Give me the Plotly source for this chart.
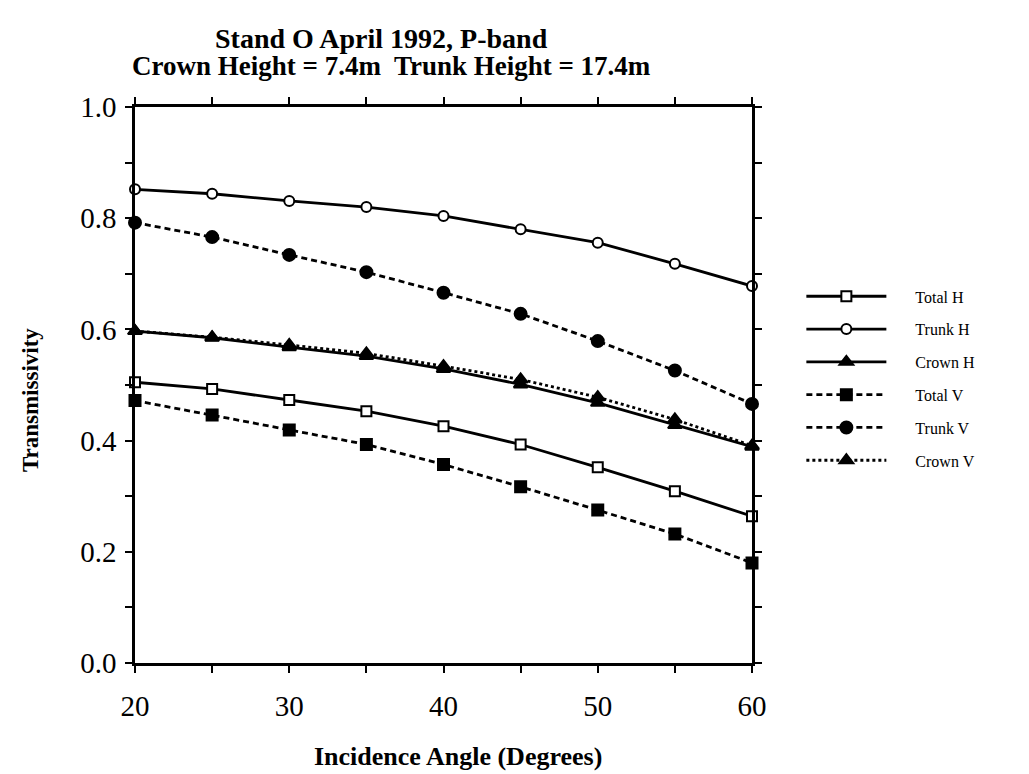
import plotly.graph_objects as go

angles = [20, 25, 30, 35, 40, 45, 50, 55, 60]

total_h = [0.505, 0.493, 0.473, 0.453, 0.426, 0.393, 0.352, 0.309, 0.264]
trunk_h = [0.852, 0.844, 0.831, 0.820, 0.804, 0.780, 0.756, 0.718, 0.678]
crown_h = [0.597, 0.585, 0.568, 0.552, 0.529, 0.501, 0.468, 0.428, 0.389]
total_v = [0.472, 0.446, 0.419, 0.393, 0.357, 0.317, 0.275, 0.232, 0.180]
trunk_v = [0.792, 0.766, 0.734, 0.703, 0.666, 0.628, 0.579, 0.526, 0.466]
crown_v = [0.597, 0.586, 0.572, 0.557, 0.534, 0.510, 0.478, 0.438, 0.391]

series_names = ["Total H", "Trunk H", "Crown H", "Total V", "Trunk V", "Crown V"]

x_tickvals = [20, 25, 30, 35, 40, 45, 50, 55, 60]
x_ticktext = ["20", "", "30", "", "40", "", "50", "", "60"]
y_tickvals = [0.0, 0.1, 0.2, 0.3, 0.4, 0.5, 0.6, 0.7, 0.8, 0.9, 1.0]
y_ticktext = ["0.0", "", "0.2", "", "0.4", "", "0.6", "", "0.8", "", "1.0"]

title_line1 = "Stand O April 1992, P-band"
title_line2 = "Crown Height = 7.4m  Trunk Height = 17.4m"
x_title = "Incidence Angle (Degrees)"
y_title = "Transmissivity"

SERIF = "Liberation Serif, Times New Roman, serif"
PAD = "\u00a0" * 6

styles = [
    dict(series=total_h, dash="solid", symbol="square", mcolor="white", size=10),
    dict(series=trunk_h, dash="solid", symbol="circle", mcolor="white", size=10),
    dict(series=crown_h, dash="solid", symbol="triangle-up", mcolor="black", size=12),
    dict(series=total_v, dash="6px,4px", symbol="square", mcolor="black", size=11),
    dict(series=trunk_v, dash="6px,4px", symbol="circle", mcolor="black", size=12),
    dict(series=crown_v, dash="dot", symbol="triangle-up", mcolor="black", size=12),
]

fig = go.Figure()
for name, st in zip(series_names, styles):
    fig.add_trace(go.Scatter(
        x=angles, y=st["series"], name=PAD + name, mode="lines+markers",
        line=dict(color="black", width=2.8, dash=st["dash"]),
        marker=dict(symbol=st["symbol"], size=st["size"], color=st["mcolor"],
                    line=dict(color="black", width=2)),
        cliponaxis=False, legendgroup=name,
    ))

axis_common = dict(
    showline=True, linecolor="black", linewidth=2.5, mirror="ticks",
    ticks="outside", ticklen=7, tickwidth=2, tickcolor="black",
    showgrid=False, zeroline=False,
    tickfont=dict(family=SERIF, size=29, color="black"),
)

fig.update_layout(
    width=1029, height=774,
    margin=dict(l=135, r=277, t=107, b=111),
    paper_bgcolor="white", plot_bgcolor="white",
    xaxis=dict(range=[20, 60], tickvals=x_tickvals, ticktext=x_ticktext,
               ticklabelstandoff=8, **axis_common),
    yaxis=dict(range=[0, 1], tickvals=y_tickvals, ticktext=y_ticktext,
               ticklabelstandoff=3, **axis_common),
    legend=dict(
        x=1.08, xanchor="left", y=0.69, yanchor="top",
        font=dict(family=SERIF, size=16, color="black"),
        itemwidth=80, tracegroupgap=9, bgcolor="rgba(0,0,0,0)",
    ),
    showlegend=True,
    annotations=[
        dict(text="<b>" + title_line1 + "</b>", xref="paper", yref="paper",
             x=0.400, y=1.124, xanchor="center", yanchor="middle", showarrow=False,
             font=dict(family=SERIF, size=28, color="black")),
        dict(text="<b>" + title_line2 + "</b>", xref="paper", yref="paper",
             x=0.415, y=1.074, xanchor="center", yanchor="middle", showarrow=False,
             font=dict(family=SERIF, size=27, color="black")),
        dict(text="<b>" + x_title + "</b>", xref="paper", yref="paper",
             x=0.523, y=-0.169, xanchor="center", yanchor="middle", showarrow=False,
             font=dict(family=SERIF, size=26, color="black")),
        dict(text="<b>" + y_title + "</b>", xref="paper", yref="paper",
             x=-0.170, y=0.473, xanchor="center", yanchor="middle", showarrow=False,
             textangle=-90, font=dict(family=SERIF, size=23, color="black")),
    ],
)

fig.write_html("out.html")
